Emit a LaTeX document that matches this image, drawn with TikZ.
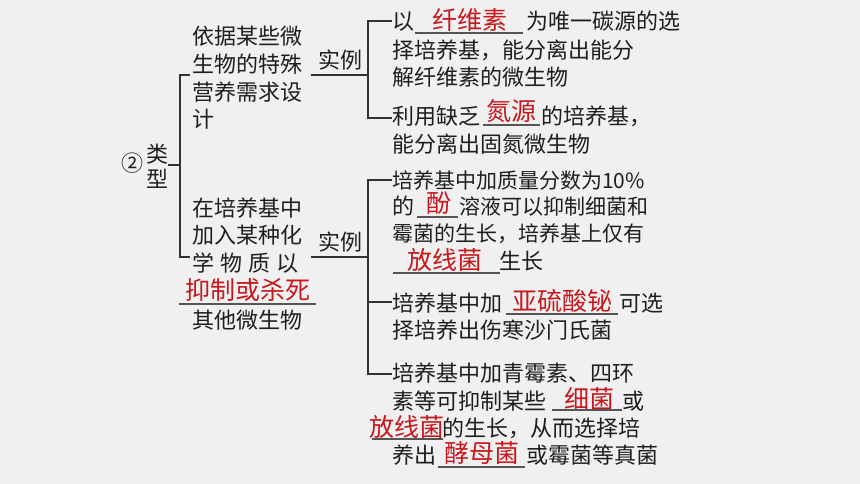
\documentclass[tikz,border=0pt]{standalone}
\usepackage{fontspec}
\setmainfont{Noto Sans CJK SC}
\definecolor{bg}{RGB}{240,240,240}
\definecolor{ink}{RGB}{30,30,30}
\definecolor{ans}{RGB}{200,24,30}
\definecolor{rule}{RGB}{50,50,50}
\definecolor{uline}{RGB}{85,85,85}
\begin{document}
\begin{tikzpicture}[x=1pt,y=-1pt,
  bt/.style={inner sep=0pt, anchor=base west, text=ink, font=\fontsize{22}{26}\selectfont},
  btn/.style={bt, font=\fontsize{21}{26}\selectfont},
  rt/.style={inner sep=0pt, anchor=base west, text=ans, font=\fontsize{25}{30}\selectfont},
  br/.style={draw=rule, line width=1.3pt},
  ul/.style={draw=uline, line width=1.2pt}]
\fill[bg] (0,0) rectangle (860,484);
\useasboundingbox (0,0) rectangle (860,484);
% left labels
\node[bt] (num) at (121,171.4) {②};
\node[bt] (lei) at (146,162.4) {类};
\node[bt] (xing) at (146,187.4) {型};
% category 1
\node[bt] (c1a) at (192,44.4) {依据某些微};
\node[bt] (c1b) at (192,72.4) {生物的特殊};
\node[bt] (c1c) at (192,100.4) {营养需求设};
\node[bt] (c1d) at (192,127.4) {计};
% category 2
\node[bt] (c2a) at (192,216.4) {在培养基中};
\node[bt] (c2b) at (192,243.4) {加入某种化};
\node[bt] (c2c) at (192,271.4) {学\hspace{6pt}物\hspace{6pt}质\hspace{6pt}以};
\node[rt] (r9) at (185,299.5) {抑制或杀死};
\node[bt] (c2e) at (192,328.4) {其他微生物};
% examples labels
\node[bt] (ex1) at (318,68.4) {实例};
\node[bt] (ex2) at (318,250.4) {实例};
% right group 1
\node[bt] (a1) at (392,29.4) {以};
\node[rt] (r1) at (432,29.5) {纤维素};
\node[bt] (a1b) at (526,29.4) {为唯一碳源的选};
\node[bt] (a2) at (392,58.4) {择培养基，能分离出能分};
\node[bt] (a3) at (392,85.4) {解纤维素的微生物};
\node[bt] (b1) at (392,124.4) {利用缺乏};
\node[rt] (r2) at (486,120.5) {氮源};
\node[bt] (b1b) at (541,124.4) {的培养基，};
\node[bt] (b2) at (392,152.4) {能分离出固氮微生物};
% right group 2
\node[btn] (d1) at (392,188.4) {培养基中加质量分数为10\%};
\node[bt] (d2) at (392,214.4) {的};
\node[rt] (r3) at (426,212.5) {酚};
\node[btn] (d2b) at (459,214.4) {溶液可以抑制细菌和};
\node[btn] (d3) at (392,241.4) {霉菌的生长，培养基上仅有};
\node[rt] (r4) at (407,269.5) {放线菌};
\node[bt] (d4b) at (499,269.4) {生长};
\node[bt] (e1) at (392,311.4) {培养基中加};
\node[rt] (r5) at (512,310.5) {亚硫酸铋};
\node[bt] (e1b) at (619,311.4) {可选};
\node[bt] (e2) at (392,338.4) {择培养出伤寒沙门氏菌};
\node[bt] (f1) at (392,381.4) {培养基中加青霉素、四环};
\node[bt] (f2) at (392,409.4) {素等可抑制某些};
\node[rt] (r6) at (564,408.5) {细菌};
\node[bt] (f2b) at (622,409.4) {或};
\node[rt] (r7) at (369,436.5) {放线菌};
\node[bt] (f3b) at (442,436.4) {的生长，从而选择培};
\node[bt] (f4) at (392,463.4) {养出};
\node[rt] (r8) at (444,462.5) {酵母菌};
\node[bt] (f4b) at (526,463.4) {或霉菌等真菌};
% underlines
\draw[ul] (415,33) -- (523,33);
\draw[ul] (483,125) -- (540,125);
\draw[ul] (417,217) -- (458,217);
\draw[ul] (393,273) -- (500,273);
\draw[ul] (506,314) -- (618,314);
\draw[ul] (552,410) -- (622,410);
\draw[ul] (372,439) -- (443,439);
\draw[ul] (438,467) -- (525,467);
\draw[ul] (179,304) -- (316,304);
% bracket coordinates
\coordinate (typeR) at (168,165);
\coordinate (ob) at (180,165);
\coordinate (k1) at (190,75);
\coordinate (k2) at (190,257);
\coordinate (s1) at (311,75);
\coordinate (s2) at (311,257);
\coordinate (ib1) at (368,75);
\coordinate (ib2) at (368,257);
\coordinate (g1) at (392,21);
\coordinate (g2) at (392,118);
\coordinate (h1) at (392,180);
\coordinate (h2) at (392,302);
\coordinate (h3) at (392,374);
% outer bracket
\draw[br] (typeR) -- (ob);
\draw[br] (k1) -| (ob) |- (k2);
% connectors
\draw[br] (s1) -- (ib1);
\draw[br] (s2) -- (ib2);
% inner bracket 1
\draw[br] (g1) -| (ib1) |- (g2);
% inner bracket 2
\draw[br] (h1) -| (ib2) |- (h3);
\draw[br] (ib2 |- h2) -- (h2);
\end{tikzpicture}
\end{document}
